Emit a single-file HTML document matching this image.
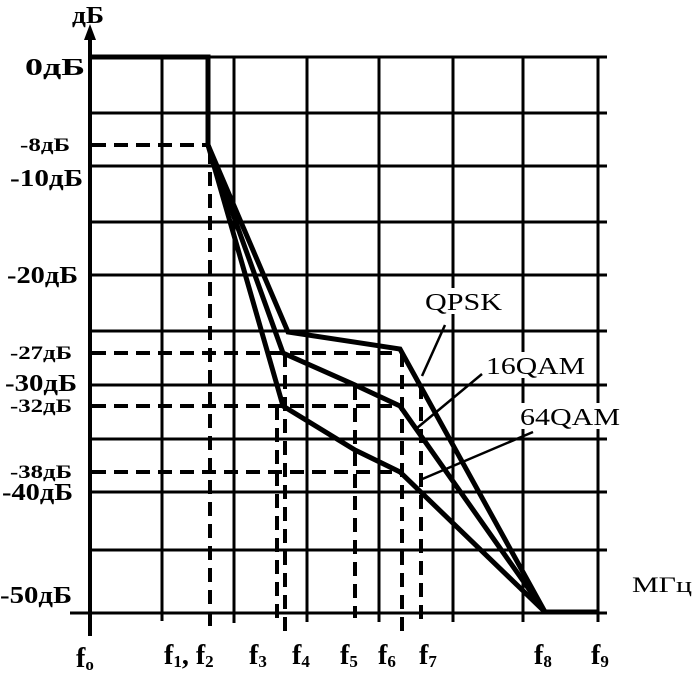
<!DOCTYPE html>
<html><head><meta charset="utf-8"><style>
html,body{margin:0;padding:0;background:#fff;}
svg{display:block;}
text{font-family:"Liberation Serif",serif;fill:#000;}
.b{font-weight:bold;}
</style></head><body>
<svg width="693" height="679" viewBox="0 0 693 679" xmlns="http://www.w3.org/2000/svg">
<g stroke="#000" stroke-width="3" fill="none">
<line x1="90" y1="113" x2="607" y2="113"/>
<line x1="90" y1="166" x2="607" y2="166"/>
<line x1="90" y1="222" x2="607" y2="222"/>
<line x1="90" y1="275" x2="607" y2="275"/>
<line x1="90" y1="331" x2="607" y2="331"/>
<line x1="90" y1="385" x2="607" y2="385"/>
<line x1="90" y1="439" x2="607" y2="439"/>
<line x1="88" y1="492" x2="607" y2="492"/>
<line x1="90" y1="550" x2="607" y2="550"/>
<line x1="70" y1="613" x2="607" y2="613"/>
<line x1="90" y1="57" x2="607" y2="57"/>
<line x1="162" y1="57" x2="162" y2="621"/>
<line x1="234" y1="57" x2="234" y2="623"/>
<line x1="307" y1="57" x2="307" y2="622"/>
<line x1="379" y1="57" x2="379" y2="622"/>
<line x1="453" y1="57" x2="453" y2="622"/>
<line x1="523" y1="57" x2="523" y2="622"/>
<line x1="598" y1="57" x2="598" y2="622"/>
</g>
<line x1="90" y1="36" x2="90" y2="636" stroke="#000" stroke-width="4"/>
<polygon points="90,24 84,40 96,40" fill="#000"/>
<g stroke="#000" stroke-width="4" stroke-dasharray="14,8" fill="none">
<line x1="92" y1="145" x2="208" y2="145"/>
<line x1="92" y1="353" x2="400" y2="353"/>
<line x1="92" y1="406" x2="400" y2="406"/>
<line x1="92" y1="472" x2="400" y2="472"/>
<line x1="210" y1="150" x2="210" y2="632"/>
<line x1="277" y1="406" x2="277" y2="626"/>
<line x1="285" y1="353" x2="285" y2="632"/>
<line x1="355" y1="386" x2="355" y2="618"/>
<line x1="402" y1="353" x2="402" y2="634"/>
<line x1="421" y1="385" x2="421" y2="622"/>
</g>
<g stroke="#000" stroke-width="5" fill="none" stroke-linejoin="miter">
<polyline points="90,57 208,57 208,145"/>
<polyline points="208,145 288,332 400,349 545,612 598,612"/>
<polyline points="208,145 283,353 355,385 400,406 545,612"/>
<polyline points="208,145 283,406 355,450 400,472 545,612"/>
</g>
<rect x="420" y="288" width="86" height="26" fill="#fff"/>
<rect x="484" y="352" width="104" height="26" fill="#fff"/>
<rect x="518" y="403" width="104" height="26" fill="#fff"/>
<g stroke="#000" stroke-width="2.5">
<line x1="445" y1="325" x2="422" y2="376"/>
<line x1="482" y1="374" x2="417" y2="428"/>
<line x1="533" y1="432" x2="420" y2="480"/>
</g>
<text x="425" y="310" font-size="24" textLength="77" lengthAdjust="spacingAndGlyphs">QPSK</text>
<text x="486" y="374" font-size="24" textLength="99" lengthAdjust="spacingAndGlyphs">16QAM</text>
<text x="520" y="425" font-size="24" textLength="100" lengthAdjust="spacingAndGlyphs">64QAM</text>
<g class="b">
<text x="72" y="23" font-size="24" textLength="32" lengthAdjust="spacingAndGlyphs">дБ</text>
<text x="25" y="75" font-size="24" textLength="60" lengthAdjust="spacingAndGlyphs">0дБ</text>
<text x="20" y="151" font-size="19" textLength="50" lengthAdjust="spacingAndGlyphs">-8дБ</text>
<text x="10" y="186" font-size="24" textLength="73" lengthAdjust="spacingAndGlyphs">-10дБ</text>
<text x="7" y="283" font-size="24" textLength="71" lengthAdjust="spacingAndGlyphs">-20дБ</text>
<text x="10" y="359" font-size="19" textLength="62" lengthAdjust="spacingAndGlyphs">-27дБ</text>
<text x="5" y="391" font-size="24" textLength="72" lengthAdjust="spacingAndGlyphs">-30дБ</text>
<text x="10" y="412" font-size="19" textLength="62" lengthAdjust="spacingAndGlyphs">-32дБ</text>
<text x="10" y="478" font-size="19" textLength="62" lengthAdjust="spacingAndGlyphs">-38дБ</text>
<text x="2" y="500" font-size="24" textLength="71" lengthAdjust="spacingAndGlyphs">-40дБ</text>
<text x="0" y="603" font-size="24" textLength="72" lengthAdjust="spacingAndGlyphs">-50дБ</text>
<text x="632" y="592" font-size="22" font-weight="normal" textLength="60" lengthAdjust="spacingAndGlyphs">МГц</text>
<text x="76" y="667" font-size="28">f<tspan font-size="17" dy="3">o</tspan></text>
<text x="164" y="664" font-size="28">f<tspan font-size="17" dy="3">1</tspan><tspan dy="-3">, f</tspan><tspan font-size="17" dy="3">2</tspan></text>
<text x="249" y="664" font-size="28">f<tspan font-size="17" dy="3">3</tspan></text>
<text x="292" y="664" font-size="28">f<tspan font-size="17" dy="3">4</tspan></text>
<text x="340" y="664" font-size="28">f<tspan font-size="17" dy="3">5</tspan></text>
<text x="378" y="664" font-size="28">f<tspan font-size="17" dy="3">6</tspan></text>
<text x="419" y="664" font-size="28">f<tspan font-size="17" dy="3">7</tspan></text>
<text x="534" y="664" font-size="28">f<tspan font-size="17" dy="3">8</tspan></text>
<text x="591" y="664" font-size="28">f<tspan font-size="17" dy="3">9</tspan></text>
</g>
</svg>
</body></html>
